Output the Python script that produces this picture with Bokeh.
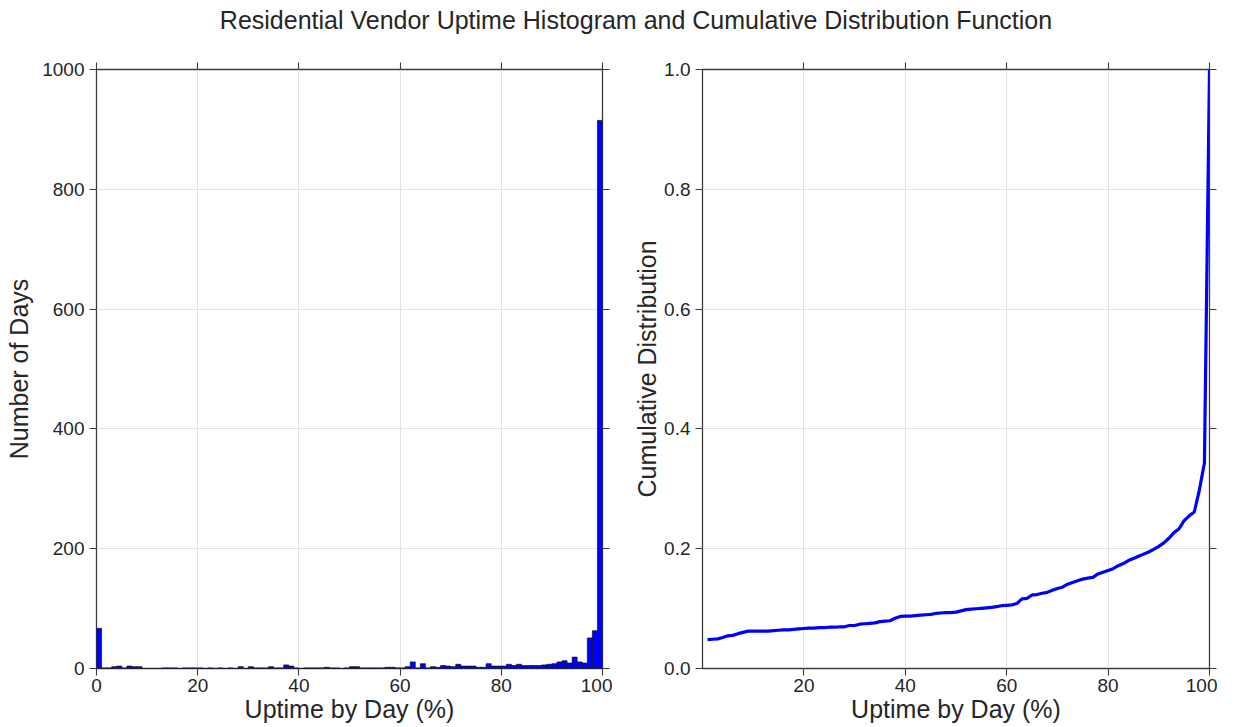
import numpy as np
from bokeh.plotting import figure
from bokeh.models import LinearAxis, Div, FixedTicker, Range1d, ColumnDataSource
from bokeh.layouts import column, row
from bokeh.embed import file_html
from bokeh.resources import INLINE

# ---- data ----
bin_edges = list(range(0, 101))
day_counts = [67, 1, 1, 3, 4, 1, 4, 3, 3, 0,      # 0-9
              0, 0, 0, 1, 1, 1, 0, 1, 1, 1,       # 10-19
              1, 0, 1, 0, 1, 0, 1, 0, 3, 0,       # 20-29
              3, 1, 1, 1, 3, 1, 1, 6, 4, 1,       # 30-39
              0, 1, 1, 1, 1, 2, 1, 1, 0, 1,       # 40-49
              3, 3, 1, 1, 1, 1, 1, 2, 2, 1,       # 50-59
              1, 3, 11, 1, 8, 1, 3, 2, 5, 4,      # 60-69
              3, 7, 4, 4, 4, 2, 2, 8, 4, 4,       # 70-79
              4, 7, 5, 7, 5, 5, 5, 5, 6, 7,       # 80-89
              8, 11, 13, 9, 19, 11, 9, 51, 63, 915]  # 90-99
hist_x_ticks = [0, 20, 40, 60, 80, 100]
hist_y_ticks = [0, 200, 400, 600, 800, 1000]
cdf_x_ticks = [20, 40, 60, 80, 100]
cdf_y_ticks = [0.0, 0.2, 0.4, 0.6, 0.8, 1.0]
title_text = "Residential Vendor Uptime Histogram and Cumulative Distribution Function"

counts = np.array(day_counts, dtype=float)
cdf_vals = np.cumsum(counts) / counts.sum()
cdf_x = bin_edges[1:]

FONT = "Liberation Sans"
TXT = "#262626"
FRAME = "#3c3c3c"
GRID = "#e3e3e3"


def style(p, xticks, yticks, ylabel, ylab_standoff):
    p.outline_line_color = FRAME
    p.outline_line_width = 1.3
    for ax in list(p.xaxis) + list(p.yaxis):
        ax.axis_line_color = None
        ax.major_tick_line_color = FRAME
        ax.major_tick_line_width = 1.1
        ax.major_tick_in = 0
        ax.major_tick_out = 7
        ax.minor_tick_line_color = None
        ax.major_label_text_font = FONT
        ax.major_label_text_font_size = "19px"
        ax.major_label_text_color = TXT
        ax.axis_label_text_font = FONT
        ax.axis_label_text_font_size = "25px"
        ax.axis_label_text_font_style = "normal"
        ax.axis_label_text_color = TXT
    p.xaxis.ticker = FixedTicker(ticks=xticks)
    p.yaxis.ticker = FixedTicker(ticks=yticks)
    p.xaxis.major_label_standoff = 3
    p.yaxis.major_label_standoff = 5
    p.xaxis.axis_label_standoff = 0
    p.yaxis.axis_label_standoff = ylab_standoff
    p.xaxis.axis_label = "Uptime by Day (%)"
    p.yaxis.axis_label = ylabel
    p.xgrid.ticker = FixedTicker(ticks=xticks)
    p.ygrid.ticker = FixedTicker(ticks=yticks)
    p.xgrid.grid_line_color = GRID
    p.ygrid.grid_line_color = GRID
    p.xgrid.grid_line_width = 1
    p.ygrid.grid_line_width = 1
    # tick-only axes on top and right (labels not drawn)
    top = LinearAxis(ticker=FixedTicker(ticks=xticks))
    right = LinearAxis(ticker=FixedTicker(ticks=yticks))
    for ax in (top, right):
        ax.axis_line_color = None
        ax.major_tick_line_color = FRAME
        ax.major_tick_line_width = 1.1
        ax.major_tick_in = 0
        ax.major_tick_out = 7
        ax.minor_tick_line_color = None
        ax.major_label_text_color = None
        ax.major_label_text_font_size = "0px"
        ax.major_label_standoff = 0
    p.add_layout(top, "above")
    p.add_layout(right, "right")


p1 = figure(frame_width=506, frame_height=599, output_backend="svg", toolbar_location=None,
            x_range=Range1d(0, 100), y_range=Range1d(0, 1000),
            min_border_left=96, min_border_right=10, min_border_top=21, min_border_bottom=10)
src = ColumnDataSource(dict(left=bin_edges[:-1], right=bin_edges[1:], top=day_counts))
p1.quad(left="left", right="right", bottom=0, top="top", source=src,
        fill_color="#0000ff", line_color="#111111", line_width=0.7)
style(p1, hist_x_ticks, hist_y_ticks, "Number of Days", 6)

p2 = figure(frame_width=507, frame_height=599, output_backend="svg", toolbar_location=None,
            x_range=Range1d(0, 100), y_range=Range1d(0, 1.0),
            min_border_left=90, min_border_right=8, min_border_top=21, min_border_bottom=10)
p2.line(cdf_x, cdf_vals, line_color="#0000ff", line_width=3.2)
style(p2, cdf_x_ticks, cdf_y_ticks, "Cumulative Distribution", 0)
p2.yaxis[0].major_label_overrides = {v: f"{v:.1f}" for v in cdf_y_ticks}

title = Div(text=f'<div style="font-family:\'{FONT}\';font-size:25px;color:{TXT};'
                 f'text-align:center;box-sizing:border-box;width:1222px;padding-left:40px;'
                 f'line-height:24px;padding-top:3px;white-space:nowrap">{title_text}</div>',
            width=1222, height=38)

layout = column(title, row(p1, p2))
open("out.html", "w").write(file_html(layout, INLINE))
